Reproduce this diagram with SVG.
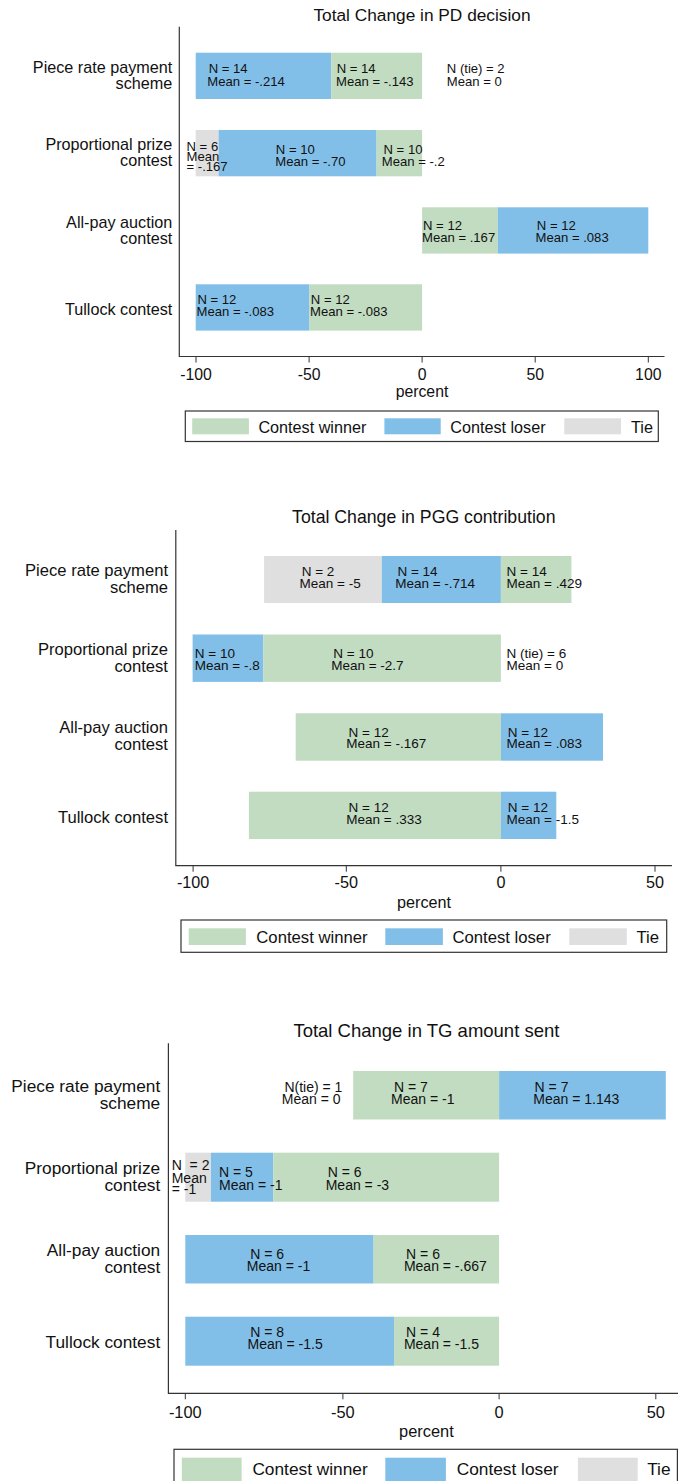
<svg xmlns="http://www.w3.org/2000/svg" width="678" height="1481" viewBox="0 0 678 1481">
  <style>
    text { font-family: "Liberation Sans", Arial, Helvetica, sans-serif; fill: #111; }
    .win { fill: #c1dcc1; }
    .lose { fill: #82bfe8; }
    .tie { fill: #dfdfdf; }
    .axis { stroke: #333; stroke-width: 1.2; fill: none; }
    .tick { stroke: #333; stroke-width: 1; }
    .lgbox { fill: #fff; stroke: #333; stroke-width: 1.2; }
    .cat { text-anchor: end; }
    .mid { text-anchor: middle; }
    .c1 .ttl { font-size: 17.3px; }
    .c1 .cat { font-size: 16.2px; }
    .c1 .tk { font-size: 15.8px; }
    .c1 .lg { font-size: 16.2px; }
    .c1 .an { font-size: 13.1px; }
    .c2 .ttl { font-size: 17.7px; }
    .c2 .cat { font-size: 16.6px; }
    .c2 .tk { font-size: 16.2px; }
    .c2 .lg { font-size: 16.7px; }
    .c2 .an { font-size: 13.5px; }
    .c3 .ttl { font-size: 18.5px; }
    .c3 .cat { font-size: 17.3px; }
    .c3 .tk { font-size: 16.4px; }
    .c3 .lg { font-size: 17.3px; }
    .c3 .an { font-size: 14px; }
  </style>

  <rect x="0" y="0" width="678" height="1481" fill="#fff"/>

  <!-- ===== Panel 1: PD decision ===== -->
  <g id="chart-pd" class="c1">
    <text class="ttl mid" x="422" y="20.7">Total Change in PD decision</text>
    <g id="pd-axes">
      <path class="axis" d="M179.3,26.7 V356.5 H664.5"/>
      <path class="tick" d="M196,356.5 v6 M309.1,356.5 v6 M422.1,356.5 v6 M535.2,356.5 v6 M648.3,356.5 v6"/>
      <text class="tk mid" x="196" y="380">-100</text>
      <text class="tk mid" x="309.1" y="380">-50</text>
      <text class="tk mid" x="422.1" y="380">0</text>
      <text class="tk mid" x="535.2" y="380">50</text>
      <text class="tk mid" x="648.3" y="380">100</text>
      <text class="tk mid" x="422" y="396.7">percent</text>
    </g>
    <g id="pd-piece">
      <text class="cat" x="172.3" y="72.7">Piece rate payment</text>
      <text class="cat" x="172.3" y="89">scheme</text>
      <rect class="lose" x="195.7" y="52.7" width="135.5" height="46.3"/>
      <rect class="win" x="331.2" y="52.7" width="90.9" height="46.3"/>
      <text class="an" x="208.7" y="73.3">N = 14</text>
      <text class="an" x="207.3" y="85.5">Mean = -.214</text>
      <text class="an" x="336.7" y="73.3">N = 14</text>
      <text class="an" x="336" y="85.5">Mean = -.143</text>
      <text class="an" x="446.8" y="73.3">N (tie) = 2</text>
      <text class="an" x="446.8" y="85.5">Mean = 0</text>
    </g>
    <g id="pd-proportional">
      <text class="cat" x="172.3" y="150">Proportional prize</text>
      <text class="cat" x="172.3" y="166">contest</text>
      <rect class="tie" x="195.7" y="130" width="22.9" height="46.3"/>
      <rect class="lose" x="218.6" y="130" width="158" height="46.3"/>
      <rect class="win" x="376.6" y="130" width="45.5" height="46.3"/>
      <text class="an" x="186.5" y="150.5">N = 6</text>
      <text class="an" x="186.5" y="160.5">Mean</text>
      <text class="an" x="186.5" y="171">= -.167</text>
      <text class="an" x="275.8" y="153.8">N = 10</text>
      <text class="an" x="275.3" y="165.7">Mean = -.70</text>
      <text class="an" x="383.5" y="153.8">N = 10</text>
      <text class="an" x="381.8" y="165.7">Mean = -.2</text>
    </g>
    <g id="pd-allpay">
      <text class="cat" x="172.3" y="228">All-pay auction</text>
      <text class="cat" x="172.3" y="244">contest</text>
      <rect class="win" x="422.1" y="207.3" width="75.7" height="46.3"/>
      <rect class="lose" x="497.8" y="207.3" width="150.5" height="46.3"/>
      <text class="an" x="423" y="230">N = 12</text>
      <text class="an" x="422" y="241.7">Mean = .167</text>
      <text class="an" x="536.8" y="230">N = 12</text>
      <text class="an" x="535.5" y="241.7">Mean = .083</text>
    </g>
    <g id="pd-tullock">
      <text class="cat" x="172.3" y="315">Tullock contest</text>
      <rect class="lose" x="195.7" y="284.3" width="113.8" height="46.3"/>
      <rect class="win" x="309.5" y="284.3" width="112.6" height="46.3"/>
      <text class="an" x="197.4" y="304">N = 12</text>
      <text class="an" x="196.5" y="316">Mean = -.083</text>
      <text class="an" x="310.8" y="304">N = 12</text>
      <text class="an" x="310" y="316">Mean = -.083</text>
    </g>
    <g id="pd-legend">
      <rect class="lgbox" x="185.3" y="411" width="473" height="30.5"/>
      <rect class="win" x="192.2" y="418.3" width="56.7" height="16"/>
      <text class="lg" x="258.4" y="432.5">Contest winner</text>
      <rect class="lose" x="384.4" y="418.3" width="56.3" height="16"/>
      <text class="lg" x="450.2" y="432.5">Contest loser</text>
      <rect class="tie" x="564.3" y="418.3" width="56.7" height="16"/>
      <text class="lg" x="631" y="432.5">Tie</text>
    </g>
  </g>

  <!-- ===== Panel 2: PGG contribution ===== -->
  <g id="chart-pgg" class="c2">
    <text class="ttl mid" x="423.8" y="523.3">Total Change in PGG contribution</text>
    <g id="pgg-axes">
      <path class="axis" d="M175.8,530 V865.7 H671.9"/>
      <path class="tick" d="M193.1,865.7 v6 M346.3,865.7 v6 M500.9,865.7 v6 M655,865.7 v6"/>
      <text class="tk mid" x="193.1" y="888.3">-100</text>
      <text class="tk mid" x="346.3" y="888.3">-50</text>
      <text class="tk mid" x="500.9" y="888.3">0</text>
      <text class="tk mid" x="655" y="888.3">50</text>
      <text class="tk mid" x="424" y="907.5">percent</text>
    </g>
    <g id="pgg-piece">
      <text class="cat" x="168" y="576">Piece rate payment</text>
      <text class="cat" x="168" y="592.7">scheme</text>
      <rect class="tie" x="264.1" y="556" width="117.7" height="47"/>
      <rect class="lose" x="381.8" y="556" width="119.1" height="47"/>
      <rect class="win" x="500.9" y="556" width="70.5" height="47"/>
      <text class="an" x="301.7" y="576">N = 2</text>
      <text class="an" x="299.6" y="588.3">Mean = -5</text>
      <text class="an" x="397.4" y="576">N = 14</text>
      <text class="an" x="395.2" y="588.3">Mean = -.714</text>
      <text class="an" x="506.5" y="576">N = 14</text>
      <text class="an" x="506.5" y="588.3">Mean = .429</text>
    </g>
    <g id="pgg-proportional">
      <text class="cat" x="168" y="655">Proportional prize</text>
      <text class="cat" x="168" y="671.7">contest</text>
      <rect class="lose" x="192.6" y="634.5" width="70.6" height="47.4"/>
      <rect class="win" x="263.2" y="634.5" width="237.7" height="47.4"/>
      <text class="an" x="194.8" y="658.3">N = 10</text>
      <text class="an" x="194.8" y="670">Mean = -.8</text>
      <text class="an" x="333.3" y="658.3">N = 10</text>
      <text class="an" x="331.2" y="670">Mean = -2.7</text>
      <text class="an" x="506.5" y="658.3">N (tie) = 6</text>
      <text class="an" x="506.5" y="670">Mean = 0</text>
    </g>
    <g id="pgg-allpay">
      <text class="cat" x="168" y="733.3">All-pay auction</text>
      <text class="cat" x="168" y="750">contest</text>
      <rect class="win" x="295.7" y="713.3" width="205.2" height="47.4"/>
      <rect class="lose" x="500.9" y="713.3" width="102.1" height="47.4"/>
      <text class="an" x="348.5" y="736.7">N = 12</text>
      <text class="an" x="346.3" y="748.3">Mean = -.167</text>
      <text class="an" x="507.8" y="736.7">N = 12</text>
      <text class="an" x="506.5" y="748.3">Mean = .083</text>
    </g>
    <g id="pgg-tullock">
      <text class="cat" x="168" y="822.7">Tullock contest</text>
      <rect class="win" x="248.9" y="791.7" width="252" height="47.3"/>
      <rect class="lose" x="500.9" y="791.7" width="55.4" height="47.3"/>
      <text class="an" x="348.5" y="812.3">N = 12</text>
      <text class="an" x="346.3" y="824">Mean = .333</text>
      <text class="an" x="507.8" y="812.3">N = 12</text>
      <text class="an" x="506.5" y="824">Mean = -1.5</text>
    </g>
    <g id="pgg-legend">
      <rect class="lgbox" x="181" y="920" width="485.7" height="32.3"/>
      <rect class="win" x="188.7" y="928.3" width="57.2" height="16.7"/>
      <text class="lg" x="256.3" y="943.3">Contest winner</text>
      <rect class="lose" x="385.3" y="928.3" width="57.6" height="16.7"/>
      <text class="lg" x="452.4" y="943.3">Contest loser</text>
      <rect class="tie" x="569.3" y="928.3" width="57.5" height="16.7"/>
      <text class="lg" x="636.4" y="943.3">Tie</text>
    </g>
  </g>

  <!-- ===== Panel 3: TG amount sent ===== -->
  <g id="chart-tg" class="c3">
    <text class="ttl mid" x="426.4" y="1036.7">Total Change in TG amount sent</text>
    <g id="tg-axes">
      <path class="axis" d="M168.4,1043.3 V1393.3 H678"/>
      <path class="tick" d="M185.3,1393.3 v6 M342.9,1393.3 v6 M499.1,1393.3 v6 M655.8,1393.3 v6"/>
      <text class="tk mid" x="185.3" y="1418.3">-100</text>
      <text class="tk mid" x="342.9" y="1418.3">-50</text>
      <text class="tk mid" x="499.1" y="1418.3">0</text>
      <text class="tk mid" x="655.8" y="1418.3">50</text>
      <text class="tk mid" x="426.4" y="1436.7">percent</text>
    </g>
    <g id="tg-piece">
      <text class="cat" x="160.2" y="1091.7">Piece rate payment</text>
      <text class="cat" x="160.2" y="1109">scheme</text>
      <rect class="win" x="353.2" y="1071" width="145.9" height="48.5"/>
      <rect class="lose" x="499.1" y="1071" width="166.7" height="48.5"/>
      <text class="an" x="284.4" y="1091.7">N(tie) = 1</text>
      <text class="an" x="281.8" y="1104">Mean = 0</text>
      <text class="an" x="394" y="1091.7">N = 7</text>
      <text class="an" x="391" y="1104">Mean = -1</text>
      <text class="an" x="534.6" y="1091.7">N = 7</text>
      <text class="an" x="533.3" y="1104">Mean = 1.143</text>
    </g>
    <g id="tg-proportional">
      <text class="cat" x="160.2" y="1174.3">Proportional prize</text>
      <text class="cat" x="160.2" y="1191">contest</text>
      <rect class="tie" x="185.3" y="1152.7" width="25.6" height="49"/>
      <rect class="lose" x="210.9" y="1152.7" width="62.3" height="49"/>
      <rect class="win" x="273.2" y="1152.7" width="225.9" height="49"/>
      <text class="an" x="171.7" y="1169.5" xml:space="preserve">N  = 2</text>
      <text class="an" x="171.7" y="1182.5">Mean</text>
      <text class="an" x="171.7" y="1194">= -1</text>
      <text class="an" x="219" y="1177">N = 5</text>
      <text class="an" x="219" y="1189.5">Mean = -1</text>
      <text class="an" x="327.7" y="1177">N = 6</text>
      <text class="an" x="325.7" y="1189.5">Mean = -3</text>
    </g>
    <g id="tg-allpay">
      <text class="cat" x="160.2" y="1256">All-pay auction</text>
      <text class="cat" x="160.2" y="1273.3">contest</text>
      <rect class="lose" x="185.3" y="1235" width="188.3" height="48.5"/>
      <rect class="win" x="373.6" y="1235" width="125.5" height="48.5"/>
      <text class="an" x="250.2" y="1259">N = 6</text>
      <text class="an" x="246.8" y="1271">Mean = -1</text>
      <text class="an" x="406.1" y="1259">N = 6</text>
      <text class="an" x="403.9" y="1271">Mean = -.667</text>
    </g>
    <g id="tg-tullock">
      <text class="cat" x="160.2" y="1348.3">Tullock contest</text>
      <rect class="lose" x="185.3" y="1316.7" width="208.7" height="49"/>
      <rect class="win" x="394" y="1316.7" width="105.1" height="49"/>
      <text class="an" x="250.2" y="1337.3">N = 8</text>
      <text class="an" x="247.6" y="1349.3">Mean = -1.5</text>
      <text class="an" x="406.1" y="1337.3">N = 4</text>
      <text class="an" x="403.9" y="1349.3">Mean = -1.5</text>
    </g>
    <g id="tg-legend">
      <rect class="lgbox" x="174" y="1449.3" width="503.4" height="40"/>
      <rect class="win" x="181.8" y="1457.7" width="59.8" height="25"/>
      <text class="lg" x="252.4" y="1475">Contest winner</text>
      <rect class="lose" x="385.3" y="1457.7" width="60.6" height="25"/>
      <text class="lg" x="456.7" y="1475">Contest loser</text>
      <rect class="tie" x="577.9" y="1457.7" width="59.8" height="25"/>
      <text class="lg" x="647.2" y="1475">Tie</text>
    </g>
  </g>
</svg>
